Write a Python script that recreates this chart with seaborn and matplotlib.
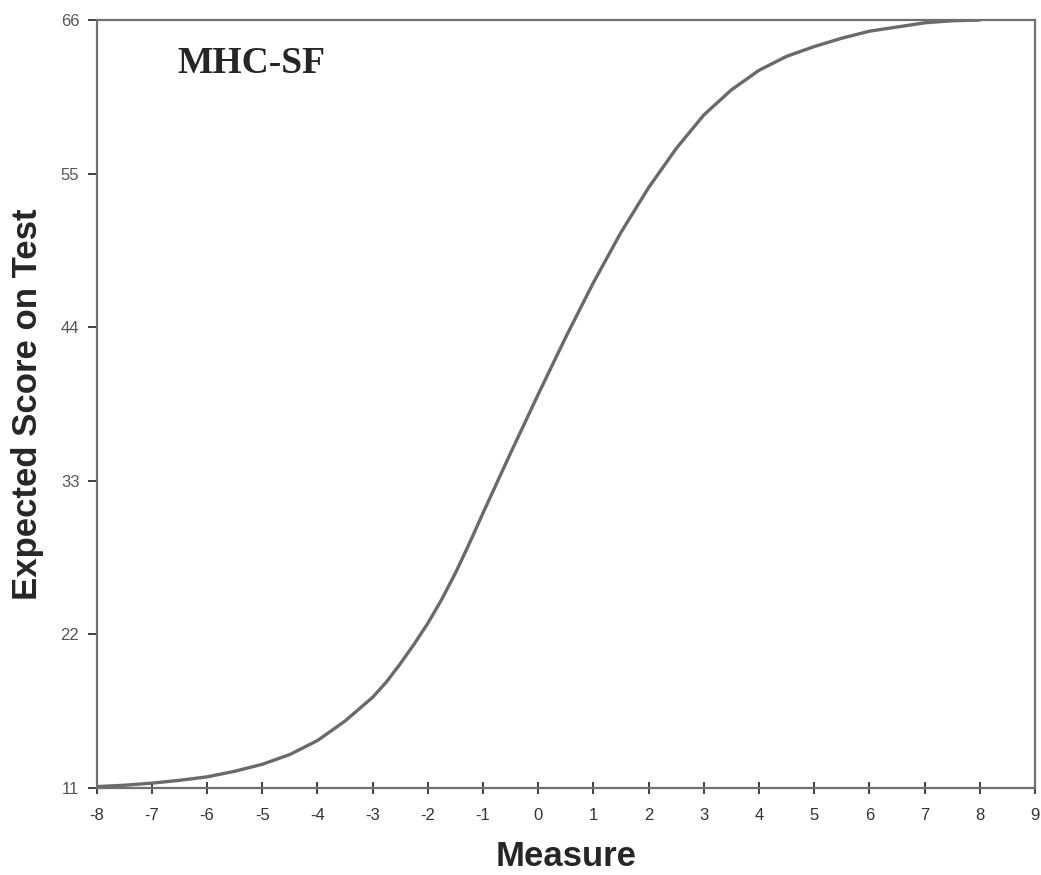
import numpy as np
import pandas as pd
import matplotlib
matplotlib.use("Agg")
import matplotlib.pyplot as plt
import seaborn as sns

# values
measure = [-8, -7.5, -7, -6.5, -6, -5.5, -5, -4.5, -4, -3.5, -3, -2.75, -2.5,
           -2.25, -2, -1.75, -1.5, -1.25, -1, -0.5, 0, 0.5, 1, 1.5, 2, 2.5, 3,
           3.5, 4, 4.5, 5, 5.5, 6, 6.5, 7, 7.5, 8]
expected = [11.1, 11.2, 11.35, 11.55, 11.8, 12.2, 12.7, 13.4, 14.4, 15.8, 17.5,
            18.6, 19.9, 21.3, 22.8, 24.5, 26.4, 28.5, 30.7, 35.0, 39.2, 43.3,
            47.2, 50.8, 54.0, 56.8, 59.2, 61.0, 62.4, 63.4, 64.1, 64.7, 65.2,
            65.5, 65.8, 65.95, 66.0]
x_ticks = list(range(-8, 10))
y_ticks = [11, 22, 33, 44, 55, 66]

df = pd.DataFrame({'Measure': measure, 'Expected': expected})

sns.set_style('white')
plt.rcParams['font.family'] = ['Liberation Sans', 'DejaVu Sans']
plt.rcParams['axes.unicode_minus'] = False

fig = plt.figure(figsize=(10.41, 8.75), dpi=100)
ax = fig.add_axes([0.0929, 0.0994, 0.9013, 0.8777])

sns.lineplot(data=df, x='Measure', y='Expected', color='#6a6a6a', linewidth=2.4, ax=ax)

ax.set_xlim(-8, 9)
ax.set_ylim(11, 66)
ax.set_xticks(x_ticks)
ax.set_yticks(y_ticks)

for s in ax.spines.values():
    s.set_color('#707070')
    s.set_linewidth(1.6)

ax.tick_params(axis='x', bottom=True, direction='inout', length=9, width=1.4,
               color='#404040', labelsize=12, labelcolor='#333333', pad=10)
ax.tick_params(axis='y', left=True, direction='out', length=6.5, width=1.4,
               color='#404040', labelsize=12, labelcolor='#555555', pad=6)

ax.set_xlabel('Measure', fontsize=25, fontweight='bold', labelpad=12)
ax.set_ylabel('Expected Score on Test', fontsize=25, fontweight='bold', labelpad=12)

ax.text(-5.2, 62.9, 'MHC-SF', fontsize=27, fontweight='bold', ha='center', va='center',
        family=['Liberation Serif', 'DejaVu Serif'])

fig.savefig('out.png', dpi=100)
